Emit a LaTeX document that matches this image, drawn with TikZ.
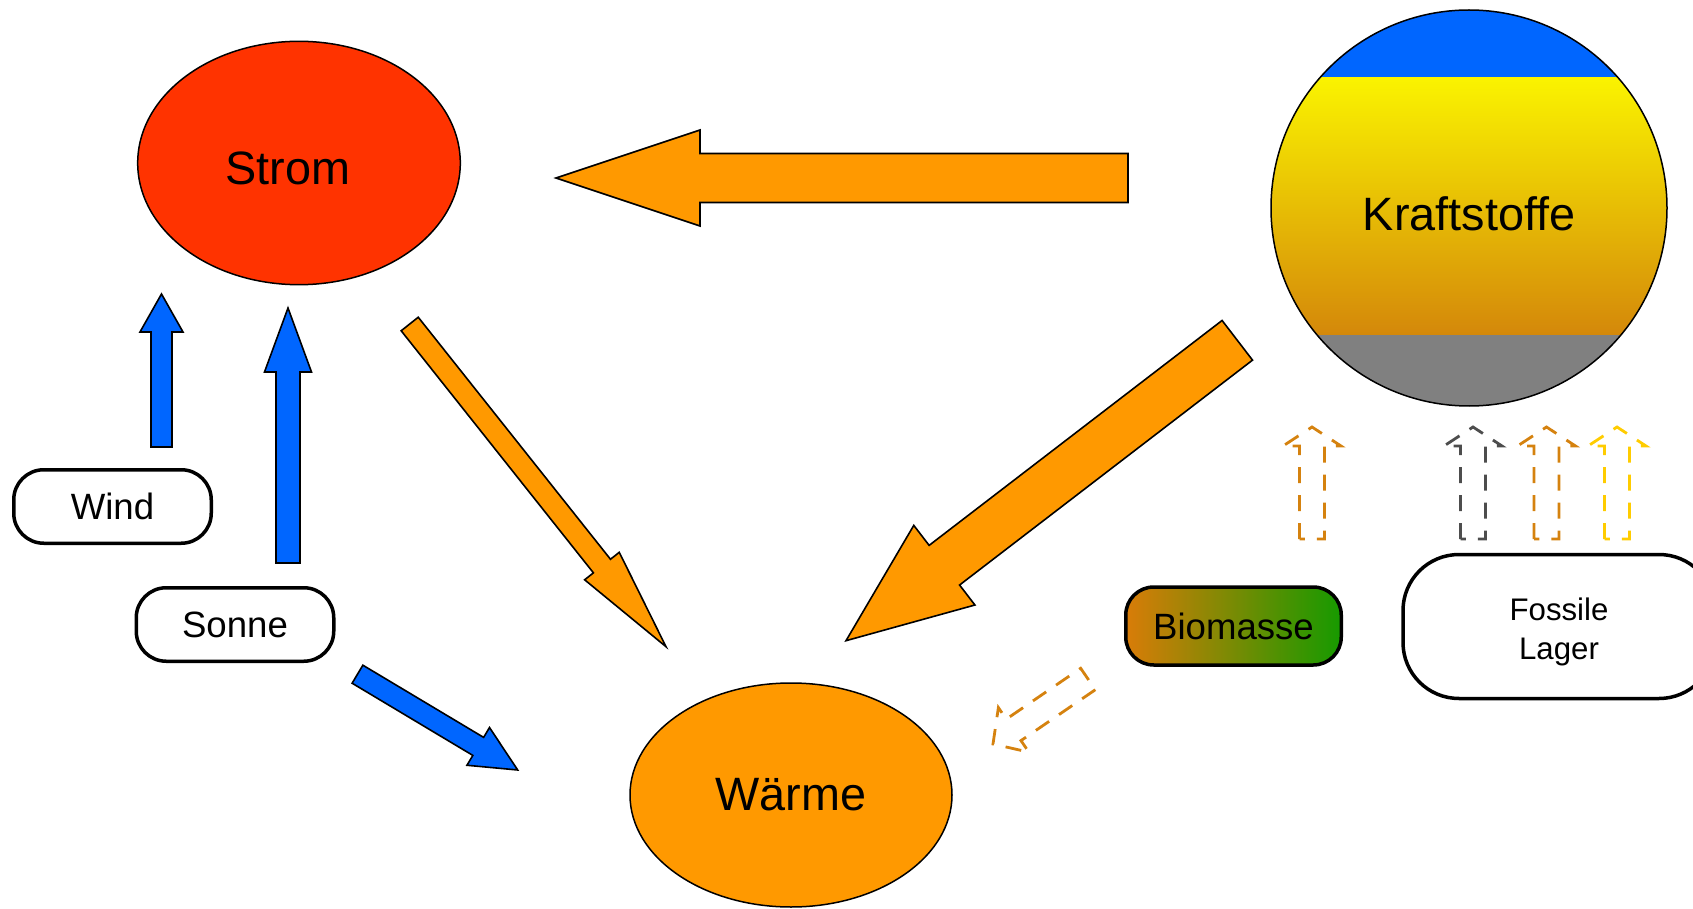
\documentclass[tikz,border=0pt]{standalone}
\usepackage{fontspec}
\setmainfont{Liberation Sans}
\usetikzlibrary{shapes.geometric,calc}

\definecolor{stromrot}{HTML}{FF3300}
\definecolor{waerme}{HTML}{FF9900}
\definecolor{sonnenblau}{HTML}{0066FF}
\definecolor{kraftgelb}{HTML}{FAF300}
\definecolor{kraftbraun}{HTML}{D4880A}
\definecolor{kraftgrau}{HTML}{808080}
\definecolor{bioorange}{HTML}{D5820F}
\definecolor{biogruen}{HTML}{169A00}
\definecolor{biolinks}{HTML}{D97C08}
\definecolor{fossilgrau}{HTML}{4D4D4D}
\definecolor{oelgelb}{HTML}{FFCC00}

\begin{document}
\begin{tikzpicture}[x=0.5pt, y=-0.5pt]
        \tikzstyle{form}=[draw, line width=0.75pt, shape=ellipse, inner sep=0pt, font=\fontsize{23.4}{28}\selectfont]
        \tikzstyle{quelle}=[draw, line width=1.75pt, shape=rectangle, rounded corners=15pt, minimum width=98.75pt, minimum height=36.75pt, font=\fontsize{18.3}{22}\selectfont]
        \tikzstyle{block}=[draw=black, line width=0.8pt]
        \tikzstyle{strich}=[dash pattern=on 8pt off 6pt, line width=1.4pt]
        \tikzset{fat/.style n args={3}{to path={
            ($(\tikztostart)!#1!90:(\tikztotarget)$)
            -- ($(\tikztotarget)!#3!(\tikztostart)!#1!-90:(\tikztostart)$)
            -- ($(\tikztotarget)!#3!(\tikztostart)!#2!-90:(\tikztostart)$)
            -- (\tikztotarget)
            -- ($(\tikztotarget)!#3!(\tikztostart)!#2!90:(\tikztostart)$)
            -- ($(\tikztotarget)!#3!(\tikztostart)!#1!90:(\tikztostart)$)
            -- ($(\tikztostart)!#1!-90:(\tikztotarget)$) -- cycle}}}

        \useasboundingbox (0,0) rectangle (1693,909);

        \node[form, fill=stromrot, minimum width=161.3pt, minimum height=121.7pt](strom) at (299,163){\hspace{-11pt}\raisebox{-2.7pt}[\height][\depth]{Strom}};
        \node[form, fill=waerme, minimum width=161pt, minimum height=112pt](waerme) at (791,795){Wärme};
        \node[draw, line width=0.75pt, shape=circle, inner sep=0pt, minimum size=198pt, font=\fontsize{23.4}{28}\selectfont,
            path picture={
            \fill[sonnenblau] (path picture bounding box.north west) rectangle ([yshift=-34pt]path picture bounding box.north east);
            \shade[top color=kraftgelb, bottom color=kraftbraun] ([yshift=-34pt]path picture bounding box.north west) rectangle ([yshift=-162.5pt]path picture bounding box.north east);
            \fill[kraftgrau] ([yshift=-162.5pt]path picture bounding box.north west) rectangle (path picture bounding box.south east);
            }](kraft) at (1469,208){\raisebox{-2.7pt}[\height][\depth]{Kraftstoffe}};

        \node[quelle](wind) at (112.5,506.5){Wind};
        \node[quelle](sonne) at (235,624.5){Sonne};
        \node[quelle, rounded corners=14pt, minimum width=107.75pt, minimum height=39pt, left color=biolinks, right color=biogruen](bio) at (1233.5,626){Biomasse};
        \node[quelle, rounded corners=28pt, minimum width=156pt, minimum height=72pt, font=\fontsize{15.6}{19.5}\selectfont](fossil) at (1559,626.5){\raisebox{-2.6pt}[\height][\depth]{\begin{tabular}{@{}c@{}}Fossile\\Lager\end{tabular}}};

        \coordinate (k2s-a) at (1128,178);
        \coordinate (k2s-b) at (556,178);
        \coordinate (s2w-a) at (409.7,324);
        \coordinate (s2w-b) at (666,646.7);
        \coordinate (k2w-a) at (1237.3,340.3);
        \coordinate (k2w-b) at (846,640.7);
        \coordinate (so2w-a) at (357.5,674.2);
        \coordinate (so2w-b) at (517.7,770);
        \coordinate (wi2s-a) at (161.5,447);
        \coordinate (wi2s-b) at (161.5,294);
        \coordinate (so2s-a) at (288,563);
        \coordinate (so2s-b) at (288,308);

        \draw[block, fill=waerme] (k2s-a) to[fat={12.25pt}{24pt}{72pt}] (k2s-b);
        \draw[block, fill=waerme] (s2w-a) to[fat={5.45pt}{11.05pt}{51.5pt}] (s2w-b);
        \draw[block, fill=waerme] (k2w-a) to[fat={12.5pt}{25.1pt}{62pt}] (k2w-b);
        \draw[block, fill=sonnenblau] (so2w-a) to[fat={5.25pt}{11pt}{23pt}] (so2w-b);
        \draw[block, fill=sonnenblau] (wi2s-a) to[fat={5.25pt}{10.75pt}{19pt}] (wi2s-b);
        \draw[block, fill=sonnenblau] (so2s-a) to[fat={6pt}{11.75pt}{32pt}] (so2s-b);

        \coordinate (b2k-a) at (1312,539);
        \coordinate (b2k-b) at (1312,427);
        \coordinate (b2w-a) at (1088,679);
        \coordinate (b2w-b) at (993,744);
        \coordinate (g2k-a) at (1473,539);
        \coordinate (g2k-b) at (1473,427);
        \coordinate (o2k-a) at (1546.5,539);
        \coordinate (o2k-b) at (1546.5,427);
        \coordinate (y2k-a) at (1617,539);
        \coordinate (y2k-b) at (1617,427);

        \draw[strich, bioorange] (b2k-a) to[fat={6.25pt}{14.5pt}{9.5pt}] (b2k-b);
        \draw[strich, bioorange] (b2w-a) to[fat={6.5pt}{13.5pt}{12.5pt}] (b2w-b);
        \draw[strich, fossilgrau] (g2k-a) to[fat={6.25pt}{14.5pt}{9.5pt}] (g2k-b);
        \draw[strich, bioorange] (o2k-a) to[fat={6.25pt}{14.5pt}{9.5pt}] (o2k-b);
        \draw[strich, oelgelb] (y2k-a) to[fat={6.25pt}{14.5pt}{9.5pt}] (y2k-b);

\end{tikzpicture}
\end{document}
